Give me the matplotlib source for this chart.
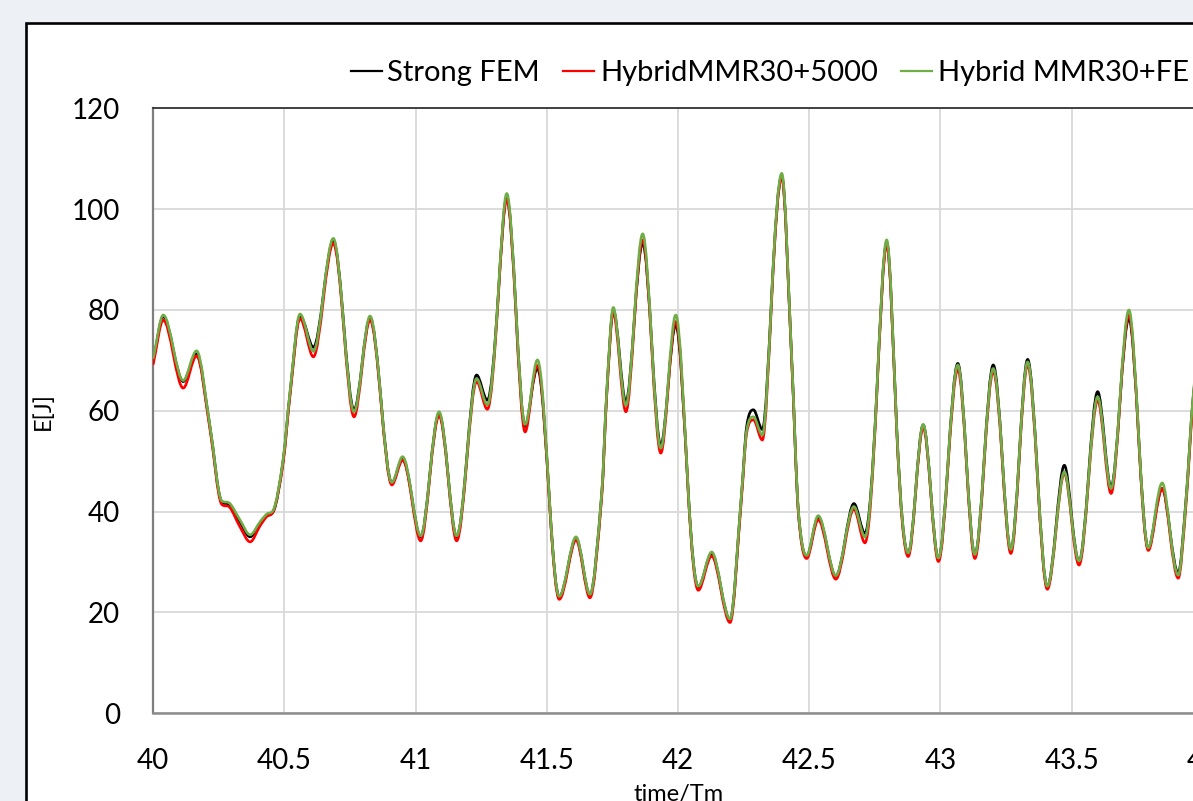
import matplotlib
matplotlib.use('Agg')
import matplotlib.pyplot as plt
from matplotlib.path import Path
from matplotlib.patches import PathPatch, Rectangle
from matplotlib.lines import Line2D
import numpy as np

# values (time/Tm, E[J])
time = [40.000, 40.038, 40.076, 40.114, 40.140, 40.165, 40.216, 40.260, 40.292,
        40.330, 40.369, 40.407, 40.432, 40.457, 40.495, 40.521, 40.559, 40.585, 40.610,
        40.648, 40.686, 40.726, 40.765, 40.796, 40.826, 40.868, 40.909, 40.950, 40.985,
        41.019, 41.054, 41.089, 41.123, 41.156, 41.195, 41.232, 41.273, 41.315, 41.347,
        41.382, 41.417, 41.440, 41.464, 41.512, 41.547, 41.580, 41.611, 41.638, 41.664,
        41.709, 41.728, 41.753, 41.777, 41.801, 41.833, 41.865, 41.900, 41.934, 41.962,
        41.991, 42.039, 42.077, 42.103, 42.128, 42.163, 42.198, 42.242, 42.261, 42.287,
        42.321, 42.357, 42.395, 42.433, 42.458, 42.490, 42.512, 42.534, 42.568, 42.601,
        42.635, 42.670, 42.712, 42.757, 42.795, 42.833, 42.877, 42.905, 42.934, 42.963,
        42.992, 43.029, 43.066, 43.099, 43.131, 43.166, 43.201, 43.235, 43.268, 43.300,
        43.332, 43.370, 43.407, 43.440, 43.472, 43.500, 43.528, 43.564, 43.599, 43.650,
        43.684, 43.718, 43.755, 43.792, 43.818, 43.845, 43.875, 43.906, 43.935, 43.962,
        44.000]

strong_fem = [70.0, 78.7, 72.2, 65.8, 68.8, 71.3, 56.8, 42.0, 41.3,
              38.0, 35.0, 37.7, 39.3, 40.0, 50.2, 63.5, 78.8, 75.8, 72.6,
              83.0, 93.7, 77.0, 60.2, 69.5, 78.4, 62.0, 45.7, 50.5, 43.0,
              35.0, 47.5, 59.4, 47.5, 35.0, 51.0, 67.1, 62.1, 83.3, 102.3,
              80.0, 56.9, 63.0, 68.4, 40.3, 23.1, 29.0, 34.7, 29.0, 23.5,
              43.6, 63.5, 80.0, 71.0, 61.8, 78.0, 93.2, 73.0, 53.2, 65.0,
              77.0, 43.6, 25.1, 28.5, 31.7, 25.0, 18.6, 43.6, 56.8, 60.2,
              56.3, 83.3, 106.6, 70.1, 40.3, 31.2, 35.0, 38.9, 33.0, 27.2,
              34.0, 41.6, 35.7, 63.5, 93.4, 56.8, 31.7, 44.0, 57.2, 44.0,
              30.7, 50.0, 69.4, 50.0, 31.4, 50.0, 69.1, 51.0, 32.4, 51.0,
              70.2, 47.0, 25.1, 37.0, 49.2, 39.0, 30.1, 47.0, 63.8, 44.9,
              62.0, 78.3, 55.0, 32.7, 39.0, 44.6, 36.0, 27.8, 42.0, 62.1,
              80.0]

hybrid_5000 = [69.3, 78.0, 71.2, 64.5, 67.8, 70.9, 56.3, 41.5, 40.8,
               37.0, 34.0, 37.2, 39.0, 40.0, 49.8, 63.0, 78.3, 74.5, 70.7,
               82.0, 93.2, 76.2, 58.8, 68.8, 78.0, 61.5, 45.3, 50.2, 42.5,
               34.2, 47.0, 59.0, 47.0, 34.2, 50.2, 65.8, 60.3, 82.8, 101.9,
               79.2, 55.8, 62.8, 69.0, 40.0, 22.6, 28.5, 34.4, 28.5, 22.9,
               43.0, 63.0, 79.5, 69.5, 59.8, 77.5, 93.9, 72.0, 51.6, 64.5,
               77.7, 43.3, 24.4, 28.0, 31.2, 24.5, 18.0, 43.0, 55.5, 58.2,
               54.2, 82.5, 106.3, 69.8, 40.0, 30.7, 34.6, 38.4, 32.4, 26.6,
               33.3, 40.5, 33.8, 62.8, 92.9, 56.2, 31.1, 43.5, 56.7, 43.5,
               30.1, 49.3, 68.2, 49.3, 30.7, 49.3, 67.8, 50.3, 31.7, 50.3,
               69.1, 46.3, 24.6, 36.2, 47.6, 38.0, 29.4, 46.0, 62.1, 43.6,
               61.8, 79.0, 54.6, 32.3, 38.5, 44.6, 35.3, 26.8, 41.0, 61.5,
               79.5]

hybrid_fe = [70.5, 79.0, 72.5, 66.0, 69.1, 71.9, 57.0, 42.2, 41.6,
             38.4, 35.4, 38.0, 39.5, 40.3, 50.5, 63.8, 79.2, 75.5, 71.8,
             83.0, 94.2, 76.8, 59.8, 69.5, 78.8, 62.0, 45.8, 50.9, 43.2,
             35.2, 47.5, 59.8, 47.5, 35.2, 50.8, 66.4, 61.2, 83.5, 103.1,
             80.2, 57.3, 63.5, 70.1, 40.5, 23.2, 29.2, 35.0, 29.2, 23.6,
             43.8, 63.8, 80.5, 70.5, 61.1, 78.5, 95.1, 73.0, 52.6, 65.5,
             79.0, 43.8, 25.2, 28.7, 32.0, 25.2, 18.7, 43.8, 56.0, 58.8,
             55.2, 83.3, 107.1, 70.3, 40.5, 31.3, 35.3, 39.2, 33.2, 27.3,
             34.0, 41.0, 35.0, 63.5, 93.9, 56.8, 31.8, 44.0, 57.3, 44.0,
             30.8, 50.0, 69.1, 50.0, 31.5, 50.0, 68.4, 51.0, 32.5, 51.0,
             69.7, 47.0, 25.2, 36.5, 47.9, 38.5, 30.2, 46.5, 62.8, 44.6,
             62.5, 80.0, 55.3, 32.8, 39.5, 45.7, 36.0, 27.4, 41.8, 62.5,
             80.5]

series_names = ['Strong FEM', 'HybridMMR30+5000', 'Hybrid MMR30+FE']
series_colors = ['#000000', '#ff0000', '#70ad47']

x_ticks = [40, 40.5, 41, 41.5, 42, 42.5, 43, 43.5, 44]
x_tick_labels = ['40', '40.5', '41', '41.5', '42', '42.5', '43', '43.5', '44']
y_ticks = [0, 20, 40, 60, 80, 100, 120]


def smooth_path(xs, ys, boost=1.5):
    # smoothed line through the read points: cubic Bezier segments with flat
    # tangents at the turning points (like the rounded peaks of the original)
    x = np.asarray(xs, float)
    y = np.asarray(ys, float)
    n = len(x)
    sec = np.diff(y) / np.diff(x)
    turn = np.zeros(n, bool)
    turn[1:-1] = sec[:-1] * sec[1:] <= 0
    m = np.zeros(n)
    m[0], m[-1] = sec[0], sec[-1]
    for i in range(1, n - 1):
        if turn[i]:
            continue
        d = (y[i + 1] - y[i - 1]) / (x[i + 1] - x[i - 1])
        if turn[i - 1] and turn[i + 1]:
            d *= boost
        lim = 3 * min(abs(sec[i - 1]), abs(sec[i]))
        m[i] = np.sign(d) * min(abs(d), lim)
    verts = [(x[0], y[0])]
    codes = [Path.MOVETO]
    for i in range(n - 1):
        h = x[i + 1] - x[i]
        verts += [(x[i] + h / 3, y[i] + m[i] * h / 3),
                  (x[i + 1] - h / 3, y[i + 1] - m[i + 1] * h / 3),
                  (x[i + 1], y[i + 1])]
        codes += [Path.CURVE4] * 3
    return Path(verts, codes)


W, H = 1193, 801
plt.rcParams['font.family'] = ['Lato', 'DejaVu Sans']

fig = plt.figure(figsize=(W / 100, H / 100), dpi=100)
fig.patch.set_facecolor('#edf1f6')

# white chart box with black border (runs off the right and bottom edges)
box = Rectangle((26 / W, -0.2), 2.0, 1.2 - 23 / H, transform=fig.transFigure,
                facecolor='white', edgecolor='black', linewidth=1.9, zorder=-10)
fig.patches.append(box)

ax = fig.add_axes([153.3 / W, 1 - 713.3 / H, 1049.6 / W, 605 / H])
ax.set_facecolor('none')
ax.set_xlim(40, 44)
ax.set_ylim(0, 120)

lw = 1.9
for ys, c in zip([strong_fem, hybrid_5000, hybrid_fe], series_colors):
    patch = PathPatch(smooth_path(time, ys), facecolor='none', edgecolor=c,
                      linewidth=lw, capstyle='round', joinstyle='round', zorder=3)
    ax.add_patch(patch)

ax.set_xticks(x_ticks)
ax.set_xticklabels(x_tick_labels)
ax.set_yticks(y_ticks)
ax.grid(True, color='#d9d9d9', linewidth=1.3, zorder=0)
ax.set_axisbelow(True)
ax.tick_params(axis='both', length=0, labelsize=20, colors='#000000')
ax.tick_params(axis='x', pad=25)
ax.tick_params(axis='y', pad=24)

ax.spines['right'].set_visible(False)
ax.spines['top'].set_color('#404040')
ax.spines['top'].set_linewidth(1.4)
ax.spines['left'].set_color('#7f7f7f')
ax.spines['left'].set_linewidth(1.6)
ax.spines['bottom'].set_color('#8c8c8c')
ax.spines['bottom'].set_linewidth(1.8)

ax.set_xlabel('time/Tm', fontsize=17, labelpad=7)
ax.set_ylabel('E[J]', fontsize=17, labelpad=13)

handles = [Line2D([], [], color=c, linewidth=1.6) for c in series_colors]
fig.legend(handles, series_names, loc='center left',
           bbox_to_anchor=(351 / W, 1 - 73 / H), ncol=3, frameon=False,
           fontsize=21, handlelength=1.05, handletextpad=0.2,
           columnspacing=0.8, borderpad=0, borderaxespad=0)

fig.savefig('out.png', dpi=100, facecolor=fig.get_facecolor())
